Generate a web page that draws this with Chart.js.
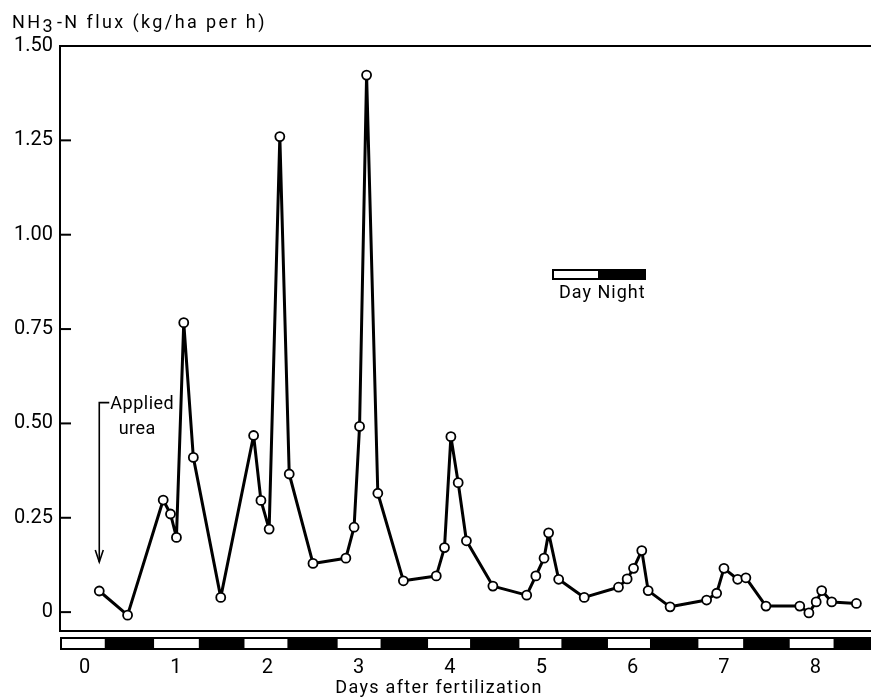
<!DOCTYPE html>
<html>
<head>
<meta charset="utf-8">
<script src="https://cdn.jsdelivr.net/npm/chart.js@4/dist/chart.umd.min.js"></script>
<style>
html,body{margin:0;padding:0;background:#fff;}
#wrap{width:871px;height:698px;position:relative;}
</style>
</head>
<body>
<div id="wrap"><canvas id="c" width="871" height="698"></canvas></div>
<script>
// ---- data ----
const days = [0.16,0.47,0.86,0.94,1.005,1.085,1.19,1.49,1.85,1.93,2.02,2.137,2.24,2.50,2.86,2.95,3.01,3.087,3.21,3.49,3.85,3.94,4.01,4.09,4.18,4.47,4.84,4.94,5.03,5.08,5.19,5.47,5.845,5.94,6.01,6.10,6.17,6.41,6.81,6.92,7.0,7.15,7.24,7.46,7.83,7.93,8.01,8.07,8.18,8.45];
const flux = [0.056,-0.008,0.297,0.26,0.198,0.767,0.41,0.039,0.468,0.296,0.22,1.26,0.366,0.129,0.143,0.225,0.492,1.423,0.315,0.083,0.096,0.171,0.465,0.343,0.189,0.069,0.045,0.096,0.143,0.21,0.087,0.039,0.066,0.088,0.116,0.163,0.057,0.014,0.032,0.05,0.116,0.087,0.091,0.016,0.016,-0.002,0.027,0.057,0.027,0.023];
const dayTicks = [0,1,2,3,4,5,6,7,8];
const fluxTicks = [0,0.25,0.5,0.75,1.0,1.25,1.5];
const fluxTickLabels = ['0','0.25','0.50','0.75','1.00','1.25','1.50'];
const daylightStart = [-0.27,0.76,1.75,2.77,3.76,4.76,5.73,6.72,7.72];
const daylightEnd   = [0.22,1.25,2.22,3.24,4.22,5.22,6.19,7.21,8.2];
const ureaDay = 0.16;
const ureaTop = 0.555, ureaTip = 0.133;
const yTitleParts = ['NH','3','-N flux (kg/ha per h)'];
const xTitle = 'Days after fertilization';
const legendLabels = ['Day','Night'];

const FONT = 'Roboto, "DejaVu Sans", sans-serif';

const framePlugin = {
  id: 'frame',
  afterDraw(chart) {
    const ctx = chart.ctx, a = chart.chartArea;
    const xs = chart.scales.x, ys = chart.scales.y;
    ctx.save();
    ctx.strokeStyle = '#000'; ctx.fillStyle = '#000';
    // top frame line
    ctx.lineWidth = 2;
    ctx.beginPath(); ctx.moveTo(a.left, a.top); ctx.lineTo(a.right, a.top); ctx.stroke();
    // inward y ticks
    fluxTicks.forEach(v => {
      const y = ys.getPixelForValue(v);
      ctx.beginPath(); ctx.moveTo(a.left, y); ctx.lineTo(a.left + 11, y); ctx.stroke();
    });
    // day/night bar
    const bt = a.bottom + 6, bh = 13;
    ctx.fillStyle = '#000';
    ctx.fillRect(a.left, bt, a.right - a.left, bh);
    ctx.fillStyle = '#fff';
    daylightStart.forEach((s, i) => {
      const x0 = Math.max(xs.getPixelForValue(s), a.left + 2);
      const x1 = xs.getPixelForValue(daylightEnd[i]);
      ctx.fillRect(x0, bt + 2, x1 - x0, bh - 4);
    });
    // legend box
    const lx = 552, ly = 269;
    ctx.fillStyle = '#000';
    ctx.fillRect(lx, ly, 94, 11);
    ctx.fillStyle = '#fff';
    ctx.fillRect(lx + 2, ly + 2, 44, 7);
    ctx.fillStyle = '#000';
    ctx.font = '18px ' + FONT;
    ctx.letterSpacing = '1px';
    ctx.textBaseline = 'middle'; ctx.textAlign = 'left';
    ctx.fillText(legendLabels.join(' '), 559, 293);
    // applied urea arrow
    const ux = xs.getPixelForValue(ureaDay);
    const uTop = ys.getPixelForValue(ureaTop), uTip = ys.getPixelForValue(ureaTip);
    ctx.lineWidth = 1.6;
    ctx.beginPath(); ctx.moveTo(ux + 10, uTop); ctx.lineTo(ux, uTop); ctx.lineTo(ux, uTip); ctx.stroke();
    ctx.beginPath(); ctx.moveTo(ux - 4, uTip - 12); ctx.lineTo(ux, uTip); ctx.lineTo(ux + 4, uTip - 12); ctx.stroke();
    ctx.textAlign = 'center';
    ctx.letterSpacing = '0.5px';
    ctx.fillText('Applied', ux + 43, uTop + 2);
    ctx.fillText('urea', ux + 38, uTop + 27);
    // y title
    ctx.textAlign = 'left'; ctx.textBaseline = 'alphabetic';
    ctx.font = '18px ' + FONT;
    ctx.letterSpacing = '2.4px';
    let tx = 12;
    ctx.fillText(yTitleParts[0], tx, 28); tx += ctx.measureText(yTitleParts[0]).width;
    ctx.fillText(yTitleParts[1], tx, 32); tx += ctx.measureText(yTitleParts[1]).width + 2;
    ctx.fillText(yTitleParts[2], tx, 28);
    // x title
    ctx.textAlign = 'center'; ctx.textBaseline = 'middle';
    ctx.letterSpacing = '1.3px';
    ctx.fillText(xTitle, 439, 688);
    ctx.restore();
  }
};

new Chart(document.getElementById('c'), {
  type: 'scatter',
  data: {
    datasets: [{
      data: days.map((d, i) => ({x: d, y: flux[i]})),
      showLine: true,
      borderColor: '#000',
      borderWidth: 3,
      borderJoinStyle: 'round',
      tension: 0,
      pointRadius: 4.5,
      pointBorderWidth: 1.8,
      pointBackgroundColor: '#fff',
      pointBorderColor: '#000'
    }]
  },
  options: {
    responsive: false,
    animation: false,
    devicePixelRatio: 1,
    layout: { autoPadding: false, padding: { top: 46, right: 0, left: 0, bottom: 0 } },
    plugins: { legend: { display: false }, tooltip: { enabled: false } },
    scales: {
      x: {
        type: 'linear', min: -0.27, max: 8.61,
        grid: { display: false, drawTicks: false },
        border: { display: true, color: '#000', width: 2 },
        afterBuildTicks: s => { s.ticks = dayTicks.map(v => ({value: v})); },
        afterFit: s => { s.height = 67; },
        ticks: { color: '#000', font: { family: FONT, size: 20 }, padding: 25, autoSkip: false, maxRotation: 0,
                 callback: v => String(v) }
      },
      y: {
        type: 'linear', min: -0.05, max: 1.5,
        grid: { display: false, drawTicks: false },
        border: { display: true, color: '#000', width: 2 },
        afterBuildTicks: s => { s.ticks = fluxTicks.map(v => ({value: v})); },
        afterFit: s => { s.width = 60; },
        ticks: { color: '#000', font: { family: FONT, size: 20 }, padding: 7, autoSkip: false,
                 callback: v => { const i = fluxTicks.indexOf(v); return i >= 0 ? fluxTickLabels[i] : ''; } }
      }
    }
  },
  plugins: [framePlugin]
});
</script>
</body>
</html>
